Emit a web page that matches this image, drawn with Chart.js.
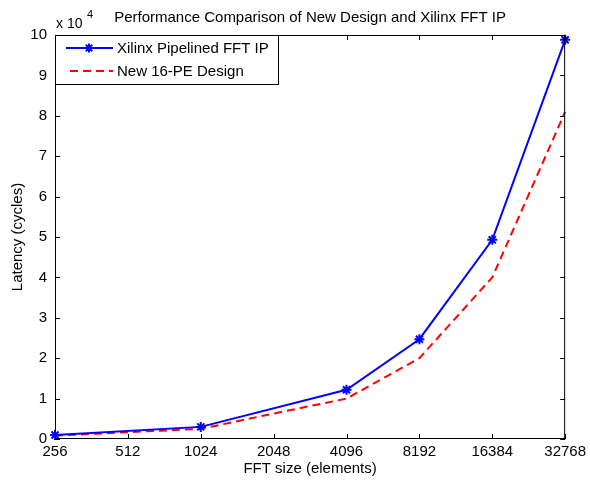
<!DOCTYPE html>
<html>
<head>
<meta charset="utf-8">
<script src="https://cdn.jsdelivr.net/npm/chart.js@4/dist/chart.umd.min.js"></script>
<style>
  html, body { margin: 0; padding: 0; background: #fff; }
  #wrap { width: 590px; height: 482px; }
</style>
</head>
<body>
<div id="wrap"><canvas id="chart" width="590" height="482"></canvas></div>
<script>
// FFT sizes shown on the x axis (equally spaced, log2 steps)
const fftSizes = ["256", "512", "1024", "2048", "4096", "8192", "16384", "32768"];

// Xilinx pipelined IP: measured at these size indices
const xilinxIdx = [0, 2, 4, 5, 6, 7];
const xilinxLatency = [1000, 3000, 12200, 24700, 49300, 98800];

// New 16-PE design
const newIdx = [0, 1, 2, 3, 4, 5, 6, 7];
const newLatency = [800, 1700, 2500, 6300, 10000, 20000, 40000, 81000];

const yTicks = [0, 1, 2, 3, 4, 5, 6, 7, 8, 9, 10];

const FONT = "'Liberation Sans', Arial, sans-serif";

const toPoints = (xs, ys) => xs.map((x, i) => ({ x: x, y: ys[i] }));

/* =========================
   DECORATION PLUGIN
========================= */
const matlabDecor = {
    id: "matlabDecor",
    afterDraw(chart) {
        const { ctx, chartArea: a, scales } = chart;
        const sx = scales.x, sy = scales.y;
        ctx.save();

        // axes box
        ctx.strokeStyle = "#000";
        ctx.lineWidth = 1;
        ctx.strokeRect(a.left + 0.5, a.top + 0.5, a.right - a.left - 1, a.bottom - a.top - 1);

        // inward tick marks
        ctx.beginPath();
        fftSizes.forEach((_, i) => {
            const px = Math.round(sx.getPixelForValue(i)) + 0.5;
            ctx.moveTo(px, a.bottom); ctx.lineTo(px, a.bottom - 5);
            ctx.moveTo(px, a.top); ctx.lineTo(px, a.top + 5);
        });
        yTicks.forEach(t => {
            const py = Math.round(sy.getPixelForValue(t * 1e4)) + 0.5;
            ctx.moveTo(a.left, py); ctx.lineTo(a.left + 5, py);
            ctx.moveTo(a.right, py); ctx.lineTo(a.right - 5, py);
        });
        ctx.stroke();

        // title
        ctx.fillStyle = "#000";
        ctx.font = "15px " + FONT;
        ctx.textAlign = "center";
        ctx.textBaseline = "middle";
        ctx.fillText("Performance Comparison of New Design and Xilinx FFT IP", (a.left + a.right) / 2, 18);

        // exponent label
        ctx.font = "14px " + FONT;
        ctx.textAlign = "left";
        ctx.fillText("x 10", 56, 24);
        ctx.font = "11px " + FONT;
        ctx.fillText("4", 87, 15);

        // axis titles
        ctx.font = "15px " + FONT;
        ctx.textAlign = "center";
        ctx.fillText("FFT size (elements)", (a.left + a.right) / 2, 469);
        ctx.save();
        ctx.translate(18, (a.top + a.bottom) / 2);
        ctx.rotate(-Math.PI / 2);
        ctx.fillText("Latency (cycles)", 0, 0);
        ctx.restore();

        // legend
        const lx = a.left, ly = a.top, lw = 223, lh = 49;
        ctx.fillStyle = "#fff";
        ctx.fillRect(lx, ly, lw, lh);
        ctx.strokeStyle = "#000";
        ctx.strokeRect(lx + 0.5, ly + 0.5, lw, lh);

        ctx.lineWidth = 2;
        ctx.strokeStyle = "#0000ff";
        ctx.beginPath();
        ctx.moveTo(lx + 11, ly + 13); ctx.lineTo(lx + 58, ly + 13);
        ctx.stroke();
        ctx.lineWidth = 2;
        const cx = lx + 34, cy = ly + 13, r = 4.5;
        ctx.beginPath();
        for (let k = 0; k < 4; k++) {
            const ang = k * Math.PI / 4;
            ctx.moveTo(cx - r * Math.cos(ang), cy - r * Math.sin(ang));
            ctx.lineTo(cx + r * Math.cos(ang), cy + r * Math.sin(ang));
        }
        ctx.stroke();

        ctx.lineWidth = 2;
        ctx.strokeStyle = "#ff0000";
        ctx.setLineDash([8, 5]);
        ctx.beginPath();
        ctx.moveTo(lx + 15, ly + 36); ctx.lineTo(lx + 58, ly + 36);
        ctx.stroke();
        ctx.setLineDash([]);

        ctx.fillStyle = "#000";
        ctx.font = "15px " + FONT;
        ctx.textAlign = "left";
        ctx.fillText("Xilinx Pipelined FFT IP", lx + 62, ly + 14);
        ctx.fillText("New 16-PE Design", lx + 62, ly + 37);

        ctx.restore();
    }
};

/* =========================
   CHART
========================= */
new Chart(document.getElementById("chart"), {
    type: "line",
    data: {
        datasets: [
            {
                label: "Xilinx Pipelined FFT IP",
                data: toPoints(xilinxIdx, xilinxLatency),
                borderColor: "#0000ff",
                backgroundColor: "#0000ff",
                borderWidth: 2,
                pointStyle: "star",
                pointRadius: 5,
                pointBorderWidth: 2,
                tension: 0,
                clip: false
            },
            {
                label: "New 16-PE Design",
                data: toPoints(newIdx, newLatency),
                borderColor: "#ff0000",
                borderWidth: 2,
                borderDash: [8, 5],
                pointRadius: 0,
                tension: 0,
                clip: false
            }
        ]
    },
    options: {
        responsive: false,
        animation: false,
        devicePixelRatio: 1,
        layout: { padding: { left: 0, top: 35, right: 21, bottom: 0 } },
        plugins: {
            legend: { display: false },
            tooltip: { enabled: false }
        },
        scales: {
            x: {
                type: "linear",
                min: 0,
                max: 7,
                afterFit: s => { s.height = 43; },
                afterBuildTicks: s => { s.ticks = fftSizes.map((_, i) => ({ value: i })); },
                grid: { display: false, drawTicks: false },
                border: { display: false },
                ticks: {
                    padding: 4,
                    color: "#000",
                    font: { family: FONT, size: 15 },
                    maxRotation: 0,
                    autoSkip: false,
                    callback: v => fftSizes[v]
                }
            },
            y: {
                type: "linear",
                min: 0,
                max: 100000,
                afterFit: s => { s.width = 55; },
                afterBuildTicks: s => { s.ticks = yTicks.map(t => ({ value: t * 1e4 })); },
                grid: { display: false, drawTicks: false },
                border: { display: false },
                ticks: {
                    padding: 8,
                    color: "#000",
                    font: { family: FONT, size: 15 },
                    callback: v => String(v / 1e4)
                }
            }
        }
    },
    plugins: [matlabDecor]
});
</script>
</body>
</html>
